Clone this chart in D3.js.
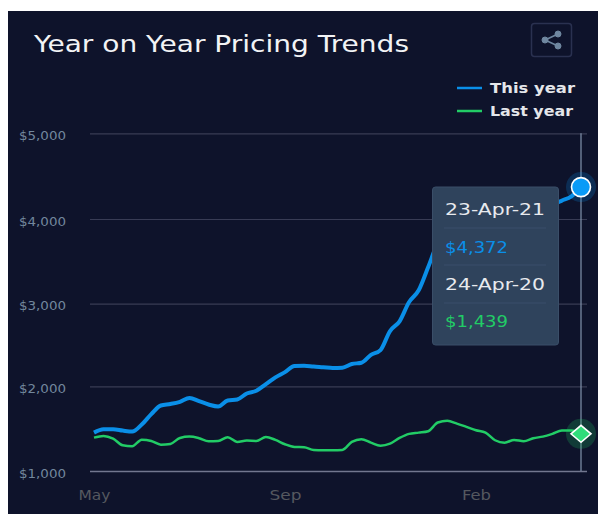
<!DOCTYPE html>
<html>
<head>
<meta charset="utf-8">
<script src="https://cdn.jsdelivr.net/npm/d3@7/dist/d3.min.js"></script>
<style>
html, body { margin: 0; padding: 0; background: #fff; overflow: hidden; }
text { font-family: "DejaVu Sans", sans-serif; }
</style>
</head>
<body>
<div id="chart"></div>
<script>
// chart width and height
var w = 598;
var h = 514;

var titleText = "Year on Year Pricing Trends";
var seriesNames = ["This year", "Last year"];
var yTicks = [1000, 2000, 3000, 4000, 5000];
var monthLabels = ["May", "Sep", "Feb"];
var monthWeeks = [0, 20, 40];
var tooltipDates = ["23-Apr-21", "24-Apr-20"];

// weekly values, part of this year is behind the tooltip
var thisYear = [1453, 1493, 1493, 1477, 1465, 1548, 1671, 1773, 1791, 1817,
    1862, 1825, 1785, 1761, 1832, 1844, 1915, 1947, 2026, 2108,
    2172, 2246, 2250, 2239, 2231, 2222, 2225, 2270, 2285, 2380,
    2439, 2669, 2787, 3020, 3158, 3433, 3720, 3880, 3960, 3990,
    4020, 4040, 4060, 4085, 4100, 4120, 4140, 4150, 4170, 4215,
    4265, 4372];
var lastYear = [1394, 1414, 1382, 1304, 1292, 1370, 1355, 1311, 1320, 1390,
    1406, 1387, 1351, 1355, 1399, 1343, 1359, 1355, 1402, 1367,
    1316, 1284, 1280, 1249, 1245, 1245, 1249, 1343, 1375, 1335,
    1299, 1323, 1390, 1438, 1453, 1470, 1572, 1592, 1560, 1521,
    1481, 1453, 1363, 1335, 1367, 1351, 1387, 1406, 1438, 1477,
    1477, 1439];

var blue = "#0a8fe8";
var green = "#22cc66";
var lastIndex = thisYear.length - 1;

var svg = d3.select("#chart").append("svg")
    .attr("width", w)
    .attr("height", h)
    .style("display", "block");

// stretches a label to the width it has in the picture
function stretch(sel, width) {
    sel.attr("textLength", width).attr("lengthAdjust", "spacingAndGlyphs");
}

// panel
svg.append("rect")
    .attr("x", 8).attr("y", 11)
    .attr("width", w - 8).attr("height", h - 11)
    .attr("fill", "#0e132b");

var xScale = d3.scaleLinear()
    .domain([0, lastIndex])
    .range([94, 581]);

// gridlines in the picture are not quite evenly spaced
var yScale = d3.scaleLinear()
    .domain(yTicks)
    .range([471, 386.3, 303.7, 219, 133.3]);

// title
svg.append("text")
    .attr("x", 34).attr("y", 52)
    .attr("font-size", 23)
    .attr("fill", "#f2f3f5")
    .text(titleText)
    .call(stretch, 375);

// share button
svg.append("rect")
    .attr("x", 531.5).attr("y", 23.5)
    .attr("width", 40).attr("height", 33).attr("rx", 3)
    .attr("fill", "none")
    .attr("stroke", "#2a3150")
    .attr("stroke-width", 1.5);
var share = svg.append("g").attr("fill", "#6f87a0").attr("stroke", "#6f87a0");
share.append("path")
    .attr("d", "M558 34L545 40L558 46")
    .attr("fill", "none")
    .attr("stroke-width", 1.6);
share.selectAll("circle")
    .data([[558, 34], [545, 40], [558, 46]])
    .enter()
    .append("circle")
    .attr("cx", function(d) { return d[0]; })
    .attr("cy", function(d) { return d[1]; })
    .attr("r", 3);

// legend
var legend = svg.selectAll(".legend")
    .data(seriesNames)
    .enter()
    .append("g")
    .attr("class", "legend")
    .attr("transform", function(d, i) { return "translate(0," + (88 + i * 23) + ")"; });
legend.append("line")
    .attr("x1", 457).attr("x2", 482)
    .attr("stroke", function(d, i) { return i == 0 ? blue : green; })
    .attr("stroke-width", 2.5);
legend.append("text")
    .attr("x", 490).attr("y", 5)
    .attr("font-size", 14.5)
    .attr("font-weight", "bold")
    .attr("fill", "#e4e6ea")
    .text(function(d) { return d; })
    .each(function(d, i) { d3.select(this).call(stretch, i == 0 ? 85 : 83); });

// y axis
var yAxis = d3.axisLeft(yScale)
    .tickValues(yTicks)
    .tickSize(-(587 - 90))
    .tickPadding(24)
    .tickFormat(function(d) { return "$" + d3.format(",")(d); });
var yG = svg.append("g")
    .attr("transform", "translate(90,0)")
    .call(yAxis);
yG.select(".domain").remove();
yG.selectAll(".tick line")
    .attr("stroke", function(d) { return d == 1000 ? "#72778f" : "#383c55"; })
    .attr("stroke-width", function(d) { return d == 1000 ? 1.5 : 1.2; });
yG.selectAll(".tick text")
    .attr("font-size", 13)
    .attr("font-family", "DejaVu Sans")
    .attr("fill", "#72879d")
    .attr("y", 2)
    .call(stretch, 47);

// x axis
var xAxis = d3.axisBottom(xScale)
    .tickValues(monthWeeks)
    .tickSize(0)
    .tickPadding(12)
    .tickFormat(function(d, i) { return monthLabels[i]; });
var xG = svg.append("g")
    .attr("transform", "translate(0,478)")
    .call(xAxis);
xG.select(".domain").remove();
xG.selectAll(".tick text")
    .attr("font-size", 13.5)
    .attr("font-family", "DejaVu Sans")
    .attr("fill", "#55585f")
    .each(function(d, i) { d3.select(this).call(stretch, i == 2 ? 29 : 32); });

// lines
var line = d3.line()
    .x(function(d, i) { return xScale(i); })
    .y(function(d) { return yScale(d); })
    .curve(d3.curveMonotoneX);

svg.append("path")
    .datum(thisYear)
    .attr("d", line)
    .attr("fill", "none")
    .attr("stroke", blue)
    .attr("stroke-width", 4);
svg.append("path")
    .datum(lastYear)
    .attr("d", line)
    .attr("fill", "none")
    .attr("stroke", green)
    .attr("stroke-width", 2.5);

// crosshair
svg.append("line")
    .attr("x1", xScale(lastIndex)).attr("x2", xScale(lastIndex))
    .attr("y1", yScale(5000)).attr("y2", yScale(1000))
    .attr("stroke", "#8294ad")
    .attr("stroke-width", 1.2);

// hover markers
var cx = xScale(lastIndex);
var cyBlue = yScale(thisYear[lastIndex]);
var cyGreen = yScale(lastYear[lastIndex]);
svg.append("circle")
    .attr("cx", cx).attr("cy", cyBlue).attr("r", 15)
    .attr("fill", blue).attr("opacity", 0.22);
svg.append("circle")
    .attr("cx", cx).attr("cy", cyBlue).attr("r", 9.5)
    .attr("fill", "#0a9bf7")
    .attr("stroke", "#fff")
    .attr("stroke-width", 1.6);
svg.append("circle")
    .attr("cx", cx).attr("cy", cyGreen).attr("r", 15)
    .attr("fill", green).attr("opacity", 0.22);
svg.append("path")
    .attr("d", d3.line()([[cx - 10, cyGreen], [cx, cyGreen - 8.5], [cx + 10, cyGreen], [cx, cyGreen + 8.5]]) + "Z")
    .attr("fill", "#2fdc7a")
    .attr("stroke", "#fff")
    .attr("stroke-width", 1.6);

// tooltip
var tip = svg.append("g");
tip.append("rect")
    .attr("x", 432.5).attr("y", 187)
    .attr("width", 126).attr("height", 158).attr("rx", 3)
    .attr("fill", "#2f435c")
    .attr("stroke", "#3a4e68")
    .attr("stroke-width", 1);
tip.selectAll("line")
    .data([228, 265, 303])
    .enter()
    .append("line")
    .attr("x1", 444).attr("x2", 546)
    .attr("y1", function(d) { return d; })
    .attr("y2", function(d) { return d; })
    .attr("stroke", "#3a4e6b");
var tipRows = [
    { t: tooltipDates[0], c: "#e8eaee", len: 100 },
    { t: "$" + d3.format(",")(thisYear[lastIndex]), c: blue, len: 63 },
    { t: tooltipDates[1], c: "#e8eaee", len: 100 },
    { t: "$" + d3.format(",")(lastYear[lastIndex]), c: green, len: 63 }
];
tip.selectAll("text")
    .data(tipRows)
    .enter()
    .append("text")
    .attr("x", 445)
    .attr("y", function(d, i) { return [215, 253, 290, 327][i]; })
    .attr("font-size", 15.5)
    .attr("fill", function(d) { return d.c; })
    .text(function(d) { return d.t; })
    .each(function(d) { d3.select(this).call(stretch, d.len); });
</script>
</body>
</html>
